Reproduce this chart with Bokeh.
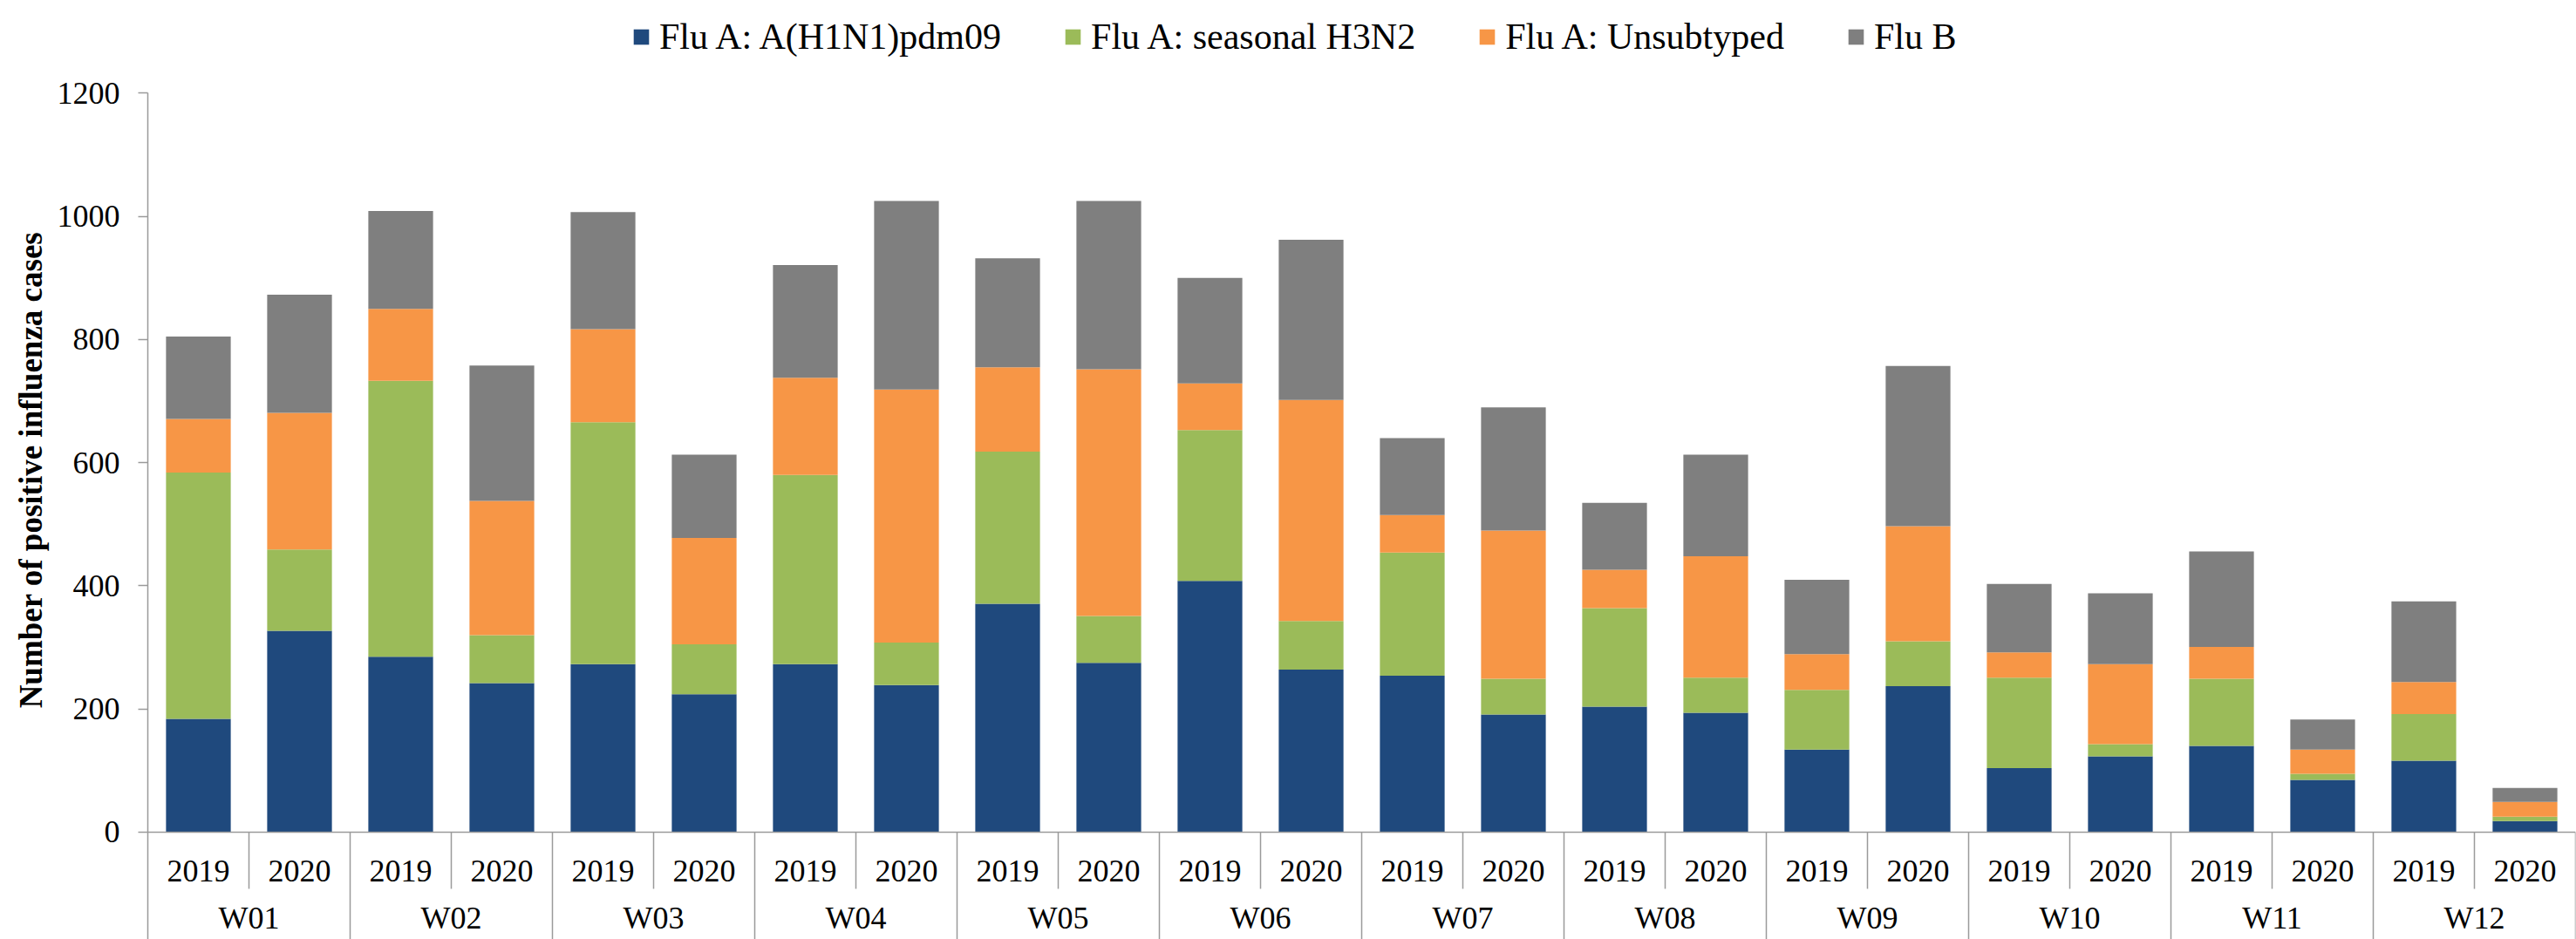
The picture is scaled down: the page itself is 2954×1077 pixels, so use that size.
from bokeh.plotting import figure
from bokeh.models import (FactorRange, Range1d, FixedTicker, CategoricalAxis,
                          Legend, LegendItem, ColumnDataSource)
from bokeh.embed import file_html
from bokeh.resources import INLINE

# ---------------- data ----------------
weeks = ["W01", "W02", "W03", "W04", "W05", "W06",
         "W07", "W08", "W09", "W10", "W11", "W12"]
years = ["2019", "2020"]
series_names = ["Flu A: A(H1N1)pdm09", "Flu A: seasonal H3N2",
                "Flu A: Unsubtyped", "Flu B"]
# order: W01-2019, W01-2020, W02-2019, ...
h1n1 = [184, 327, 285, 242, 273, 224, 273, 239, 371, 275, 408, 264,
        254, 191, 204, 194, 134, 237, 104, 123, 140, 85, 116, 18]
h3n2 = [400, 132, 448, 78, 393, 81, 307, 69, 247, 76, 245, 79,
        200, 58, 160, 57, 97, 73, 147, 20, 109, 10, 76, 7]
unsub = [87, 222, 117, 218, 151, 173, 158, 411, 137, 401, 76, 359,
         61, 241, 62, 197, 58, 187, 41, 130, 52, 39, 52, 24]
flub = [134, 192, 159, 220, 190, 135, 183, 306, 177, 273, 171, 260,
        125, 200, 109, 165, 121, 260, 111, 115, 155, 49, 131, 23]
y_ticks = [0, 200, 400, 600, 800, 1000, 1200]

# ---------------- style ----------------
FONT = "Liberation Serif"
colors = ["#1F497D", "#9BBB59", "#F79646", "#7F7F7F"]
AX = "#9a9a9a"
Y_LO, Y_HI = -174.2, 1350.8

factors = [(w, y) for w in weeks for y in years]
src = ColumnDataSource(dict(x=factors, h1n1=h1n1, h3n2=h3n2, unsub=unsub, flub=flub))

p = figure(x_range=FactorRange(*factors, factor_padding=0, group_padding=0,
                               subgroup_padding=0, range_padding=0),
           y_range=Range1d(Y_LO, Y_HI),
           width=2954, height=1077, title=None,
           output_backend="svg", toolbar_location=None,
           min_border_left=169, min_border_right=1,
           min_border_top=0, min_border_bottom=0)
p.outline_line_color = None
p.xgrid.grid_line_color = None
p.ygrid.grid_line_color = None
p.background_fill_color = "white"
p.border_fill_color = "white"

rs = p.vbar_stack(["h1n1", "h3n2", "unsub", "flub"], x="x", width=0.64,
                  color=colors, line_color=None, source=src)

# separators below the category axis
n = len(factors)
grp_x = [float(i) for i in range(2, n + 1, 2)]
yr_x = [float(i) for i in range(1, n, 2)]
p.segment(x0=grp_x, y0=[0] * len(grp_x), x1=grp_x, y1=[Y_LO] * len(grp_x),
          line_color=AX, line_width=1.5)
p.segment(x0=yr_x, y0=[0] * len(yr_x), x1=yr_x, y1=[-92] * len(yr_x),
          line_color=AX, line_width=1.5)

# y axis
ya = p.yaxis[0]
ya.ticker = FixedTicker(ticks=y_ticks)
ya.bounds = (Y_LO, 1200)
ya.axis_line_color = AX
ya.axis_line_width = 1.5
ya.major_tick_line_color = AX
ya.major_tick_line_width = 1.5
ya.major_tick_in = 0
ya.major_tick_out = 11
ya.minor_tick_line_color = None
ya.major_label_standoff = 21
ya.major_label_text_font = FONT
ya.major_label_text_font_size = "36px"
ya.major_label_text_color = "black"
ya.axis_label = "Number of positive influenza cases"
ya.axis_label_text_font = FONT
ya.axis_label_text_font_size = "37px"
ya.axis_label_text_font_style = "bold"
ya.axis_label_text_color = "black"
ya.axis_label_standoff = 7

# x axis (years) at y = 0
xa = p.xaxis[0]
xa.fixed_location = 0
xa.axis_line_color = AX
xa.axis_line_width = 1.5
xa.major_tick_line_color = None
xa.minor_tick_line_color = None
xa.major_label_standoff = 27
xa.major_label_text_font = FONT
xa.major_label_text_font_size = "36px"
xa.major_label_text_color = "black"
xa.group_text_color = None
xa.group_text_font_size = "0px"
xa.separator_line_color = None

# week labels axis
p.extra_x_ranges = {"weeks": FactorRange(*weeks, factor_padding=0, range_padding=0)}
wa = CategoricalAxis(x_range_name="weeks", fixed_location=-103)
wa.axis_line_color = None
wa.major_tick_line_color = None
wa.minor_tick_line_color = None
wa.major_label_standoff = 0
wa.major_label_text_font = FONT
wa.major_label_text_font_size = "36px"
wa.major_label_text_color = "black"
p.add_layout(wa, "below")

legend = Legend(items=[LegendItem(label=s, renderers=[r]) for s, r in zip(series_names, rs)],
                orientation="horizontal", location=(555, 1011),
                glyph_width=22, glyph_height=22, label_standoff=10, spacing=71,
                padding=0, margin=0, border_line_color=None,
                background_fill_alpha=0,
                label_text_font=FONT, label_text_font_size="42px",
                label_text_color="black")
p.add_layout(legend, "center")

open("out.html", "w").write(file_html(p, INLINE))
